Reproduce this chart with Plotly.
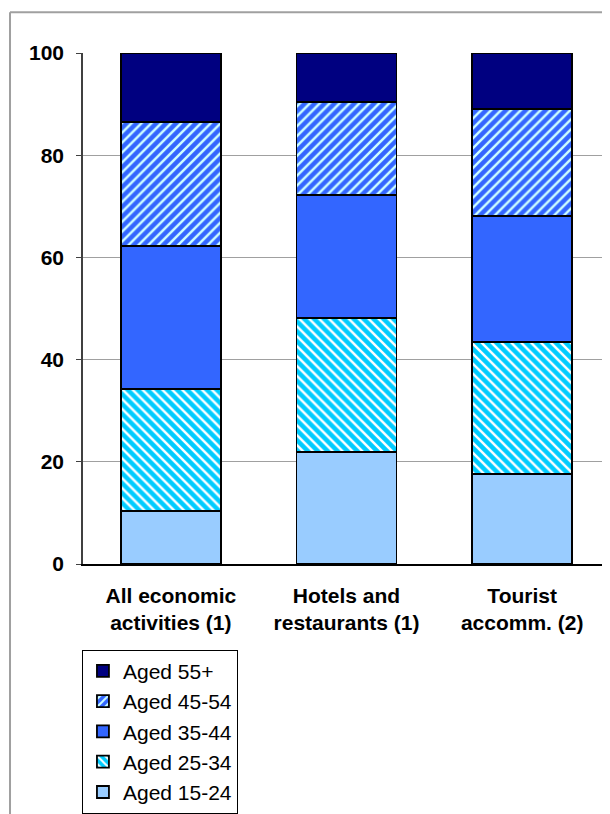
import plotly.graph_objects as go

categories = ["All economic<br>activities (1)", "Hotels and<br>restaurants (1)", "Tourist<br>accomm. (2)"]

aged_15_24 = [10.3, 21.9, 17.6]
aged_25_34 = [23.9, 26.2, 25.8]
aged_35_44 = [28.0, 24.1, 24.7]
aged_45_54 = [24.3, 18.2, 21.0]
aged_55_plus = [13.5, 9.6, 10.9]

series = [
    ("Aged 15-24", aged_15_24, "#99CCFF", None, None),
    ("Aged 25-34", aged_25_34, "#00CCFF", "\\", "#FFFFFF"),
    ("Aged 35-44", aged_35_44, "#3366FF", None, None),
    ("Aged 45-54", aged_45_54, "#3366FF", "/", "#CCFFFF"),
    ("Aged 55+", aged_55_plus, "#000080", None, None),
]

fig = go.Figure()
for name, vals, color, shape, fg in series:
    marker = dict(color=color, line=dict(color="black", width=1.8))
    if shape:
        marker["pattern"] = dict(shape=shape, bgcolor=color, fgcolor=fg,
                                 fgopacity=1, size=7, solidity=0.35)
    fig.add_trace(go.Bar(x=categories, y=vals, name=name, marker=marker))

# page body has an 8px margin, so the figure is shrunk and shifted by 8px
fig.update_layout(
    barmode="stack",
    bargap=0.43,
    width=602,
    height=806,
    margin=dict(l=75, r=0, t=45, b=248),
    plot_bgcolor="white",
    paper_bgcolor="white",
    font=dict(family="Liberation Sans, Arial, sans-serif", size=21, color="black"),
    legend=dict(
        traceorder="reversed",
        x=-0.002, xanchor="left",
        y=-0.1676, yanchor="top",
        bordercolor="black", borderwidth=1,
        font=dict(size=21),
        itemwidth=30,
    ),
    showlegend=True,
)

fig.update_yaxes(
    range=[0, 100],
    tickvals=[0, 20, 40, 60, 80, 100],
    showgrid=True, gridcolor="#A0A0A0", gridwidth=1,
    showline=True, linecolor="#404040", linewidth=1.5,
    ticks="outside", ticklen=5, tickcolor="#404040",
    tickfont=dict(size=21, weight="bold"),
    ticklabelstandoff=8,
    zeroline=False,
)
fig.update_xaxes(
    showline=True, linecolor="black", linewidth=1.5,
    tickfont=dict(size=21, weight="bold"),
    ticklabelstandoff=12,
    ticks="",
)

# outer chart frame
fig.add_shape(type="line", xref="paper", yref="paper",
              x0=-0.1385, x1=1.05, y0=1.0799, y1=1.0799,
              line=dict(color="#A0A0A0", width=2))
fig.add_shape(type="line", xref="paper", yref="paper",
              x0=-0.1385, x1=-0.1385, y0=1.0799, y1=-0.5,
              line=dict(color="#A0A0A0", width=2))

fig.write_html("out.html")
